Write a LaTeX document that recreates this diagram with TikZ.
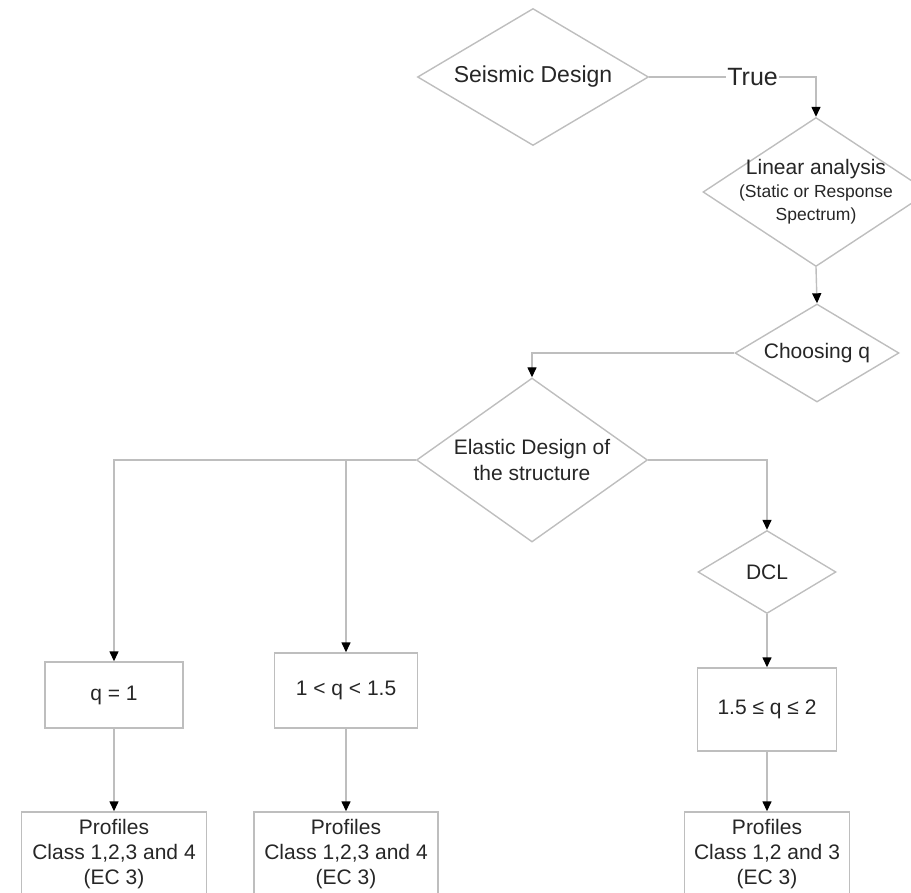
\documentclass[tikz,border=0pt]{standalone}
\usepackage{fontspec}
\setmainfont{Liberation Sans}
\usetikzlibrary{shapes.geometric,arrows.meta}
\definecolor{linegray}{RGB}{190,190,190}
\definecolor{textgray}{RGB}{38,38,38}
\tikzset{
  dia/.style={diamond, draw=linegray, line width=1.4pt, inner sep=0pt},
  boxnode/.style={rectangle, draw=linegray, line width=1.4pt, inner sep=0pt},
  txt/.style={text=textgray, font=\fontsize{21}{25}\selectfont, align=center, inner sep=0pt},
  conn/.style={draw=linegray, line width=1.4pt, -{Triangle[length=10pt,width=9pt,color=black]}},
  plain/.style={draw=linegray, line width=1.4pt}
}
\begin{document}
\begin{tikzpicture}[x=1pt,y=-1pt]
\useasboundingbox (0,0) rectangle (911,893);
% diamonds
\node[dia, minimum width=231pt, minimum height=137pt] (sd) at (533,77) {};
\node[txt, font=\fontsize{23}{27}\selectfont] (sdt) at (sd.center) {Seismic Design};
\node[dia, minimum width=226pt, minimum height=149pt] (lin) at (816,192) {};
\node[txt] (lint) at (lin.center) {Linear analysis\\[-2pt]{\fontsize{17.5}{20}\selectfont (Static or Response}\\[-2pt]{\fontsize{17.5}{20}\selectfont Spectrum)}};
\node[dia, minimum width=164pt, minimum height=98pt] (cq) at (817,353) {};
\node[txt] (cqt) at (cq.center) {Choosing q};
\node[dia, minimum width=231pt, minimum height=164pt] (el) at (532,460) {};
\node[txt, font=\fontsize{21}{26}\selectfont] (elt) at (el.center) {Elastic Design of\\the structure};
\node[dia, minimum width=138pt, minimum height=83pt] (dcl) at (767,572) {};
\node[txt] (dclt) at (dcl.center) {DCL};
% boxes
\node[boxnode, minimum width=138pt, minimum height=66pt] (q1) at (114,695) {};
\node[txt] (q1t) at (q1.center) {q = 1};
\node[boxnode, minimum width=143pt, minimum height=75pt] (q2) at (346,690.5) {};
\node[txt] (q2t) at (q2.center) {1 < q < 1.5};
\node[boxnode, minimum width=139pt, minimum height=83pt] (q3) at (767,709.5) {};
\node[txt] (q3t) at (q3.center) {1.5 ≤ q ≤ 2};
\node[boxnode, minimum width=185pt, minimum height=84pt] (p1) at (114,854) {};
\node[txt] (p1t) at (p1.center) {Profiles\\Class 1,2,3 and 4\\(EC 3)};
\node[boxnode, minimum width=184pt, minimum height=84pt] (p2) at (346,854) {};
\node[txt] (p2t) at (p2.center) {Profiles\\Class 1,2,3 and 4\\(EC 3)};
\node[boxnode, minimum width=165pt, minimum height=84pt] (p3) at (767,854) {};
\node[txt] (p3t) at (p3.center) {Profiles\\Class 1,2 and 3\\(EC 3)};
% connectors
\draw[conn] (sd.east) -| node[pos=0.31, fill=white, inner sep=1pt, text=textgray, font=\fontsize{25}{28}\selectfont] (truelab) {True} (lin.north);
\draw[conn] (lin.south) -- (cq.north);
\draw[conn] (cq.west) -| (el.north);
\draw[conn] (el.west) -| (q1.north);
\draw[conn] (el.west) -| (q2.north);
\draw[conn] (el.east) -| (dcl.north);
\draw[conn] (dcl.south) -- (q3.north);
\draw[conn] (q1.south) -- (p1.north);
\draw[conn] (q2.south) -- (p2.north);
\draw[conn] (q3.south) -- (p3.north);
\end{tikzpicture}
\end{document}
